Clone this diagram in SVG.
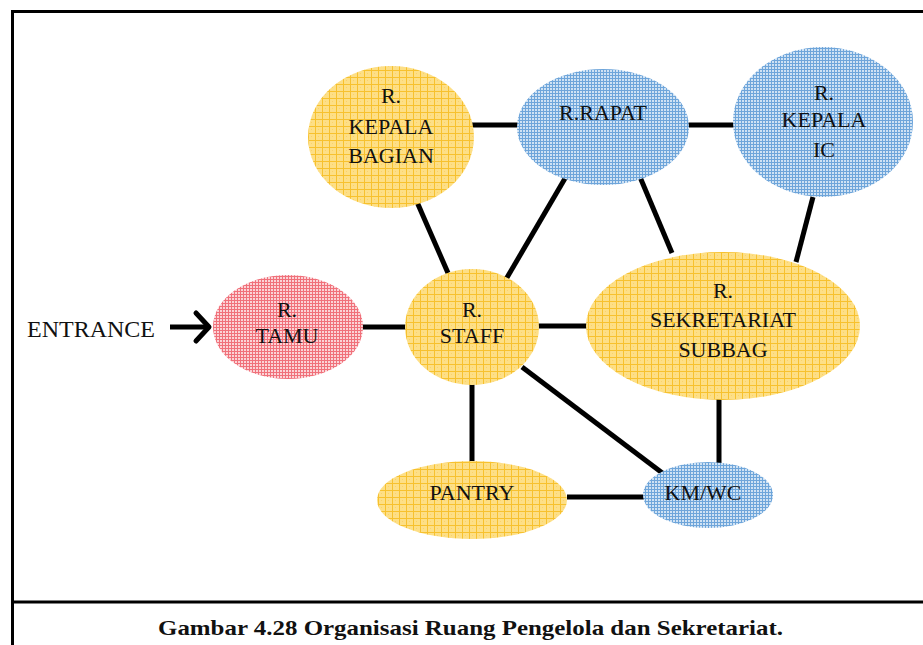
<svg xmlns="http://www.w3.org/2000/svg" width="923" height="645" viewBox="0 0 923 645">
  <defs>
    <!-- hatched fills for the three room categories -->
    <pattern id="fillYellow" width="7" height="7" patternUnits="userSpaceOnUse">
      <rect width="7" height="7" fill="#FDDF86"/>
      <rect x="3" y="3" width="1" height="1" fill="#FBD16A"/>
      <path d="M0 0.5H7M0.5 0V7" stroke="#F7C12E" stroke-width="1"/>
    </pattern>
    <pattern id="fillBlue" width="3" height="3" patternUnits="userSpaceOnUse">
      <rect width="3" height="3" fill="#CFE2F4"/>
      <path d="M0 0.5H3M0.5 0V3" stroke="#6EA5DA" stroke-width="1"/>
    </pattern>
    <pattern id="fillRed" width="3" height="3" patternUnits="userSpaceOnUse">
      <rect width="3" height="3" fill="#FBD3D6"/>
      <path d="M0 0.5H3M0.5 0V3" stroke="#F0707A" stroke-width="1"/>
    </pattern>
  </defs>
  <style>
    .frame { stroke: #000; stroke-width: 3; fill: none; }
    .link { stroke: #000; stroke-width: 5; fill: none; }
    .yellow { fill: url(#fillYellow); }
    .blue { fill: url(#fillBlue); }
    .red { fill: url(#fillRed); }
    .lbl { font-family: "Liberation Serif", "Times New Roman", serif; font-size: 22px; fill: #111; text-anchor: middle; }
    .entry { font-family: "Liberation Serif", "Times New Roman", serif; font-size: 24px; fill: #111; }
    .caption { font-family: "Liberation Serif", "Times New Roman", serif; font-size: 22px; font-weight: bold; fill: #111; }
  </style>

  <rect width="923" height="645" fill="#fff"/>

  <!-- frame -->
  <g id="frame">
    <path class="frame" d="M923 11.5H12.5V645"/>
    <path class="frame" d="M12 602H923"/>
  </g>

  <!-- connectors -->
  <g id="connectors">
    <line class="link" x1="472" y1="125" x2="520" y2="125"/>
    <line class="link" x1="687" y1="125" x2="737" y2="125"/>
    <line class="link" x1="417" y1="202" x2="448" y2="273"/>
    <line class="link" x1="567" y1="175" x2="505" y2="281"/>
    <line class="link" x1="640" y1="177" x2="672" y2="253"/>
    <line class="link" x1="813" y1="197" x2="796" y2="262"/>
    <line class="link" x1="361" y1="327" x2="407" y2="327"/>
    <line class="link" x1="538" y1="326" x2="588" y2="326"/>
    <line class="link" x1="472" y1="384" x2="472" y2="462"/>
    <line class="link" x1="522" y1="367" x2="665" y2="475"/>
    <line class="link" x1="719" y1="398" x2="719" y2="463"/>
    <line class="link" x1="567" y1="497" x2="646" y2="497"/>
    <!-- entrance arrow -->
    <line class="link" x1="170" y1="327" x2="208" y2="327"/>
    <polyline class="link" points="196,313 209,327 196,341" stroke-linecap="round" stroke-linejoin="round"/>
  </g>

  <text class="entry" x="27" y="337">ENTRANCE</text>

  <g id="kepala-bagian">
    <ellipse class="yellow" cx="391" cy="137" rx="83" ry="71"/>
    <text class="lbl" x="391" y="103">R.</text>
    <text class="lbl" x="391" y="134">KEPALA</text>
    <text class="lbl" x="391" y="163">BAGIAN</text>
  </g>

  <g id="rapat">
    <ellipse class="blue" cx="603" cy="127" rx="86" ry="58"/>
    <text class="lbl" x="603" y="120">R.RAPAT</text>
  </g>

  <g id="kepala-ic">
    <ellipse class="blue" cx="823" cy="122" rx="90" ry="75"/>
    <text class="lbl" x="824" y="100">R.</text>
    <text class="lbl" x="824" y="127">KEPALA</text>
    <text class="lbl" x="824" y="157">IC</text>
  </g>

  <g id="tamu">
    <ellipse class="red" cx="288" cy="327" rx="75" ry="52"/>
    <text class="lbl" x="287" y="317">R.</text>
    <text class="lbl" x="287" y="343">TAMU</text>
  </g>

  <g id="staff">
    <ellipse class="yellow" cx="472" cy="327" rx="67" ry="58"/>
    <text class="lbl" x="472" y="317">R.</text>
    <text class="lbl" x="472" y="343">STAFF</text>
  </g>

  <g id="sekretariat">
    <ellipse class="yellow" cx="723" cy="326" rx="137" ry="74"/>
    <text class="lbl" x="723" y="298">R.</text>
    <text class="lbl" x="723" y="327">SEKRETARIAT</text>
    <text class="lbl" x="723" y="357">SUBBAG</text>
  </g>

  <g id="pantry">
    <ellipse class="yellow" cx="472" cy="500" rx="95" ry="39"/>
    <text class="lbl" x="472" y="500">PANTRY</text>
  </g>

  <g id="kmwc">
    <ellipse class="blue" cx="708" cy="495" rx="65" ry="33"/>
    <text class="lbl" x="703" y="500">KM/WC</text>
  </g>

  <text class="caption" x="158" y="635" textLength="625" lengthAdjust="spacingAndGlyphs">Gambar 4.28 Organisasi Ruang Pengelola dan Sekretariat.</text>
</svg>
